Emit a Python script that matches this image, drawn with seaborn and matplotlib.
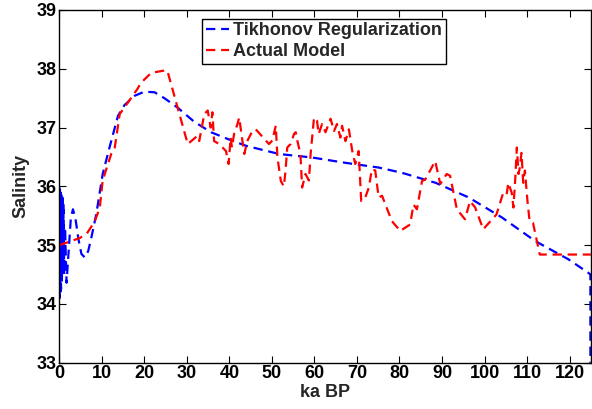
import numpy as np
import pandas as pd
import matplotlib
matplotlib.use("Agg")
import matplotlib.pyplot as plt
import seaborn as sns

# ---- data ----
tik_x = [0.0, 0.08, 0.16, 0.24, 0.32, 0.4, 0.48, 0.56, 0.64, 0.72, 0.8, 0.9, 1.0, 1.15, 1.35, 1.7,
         2.2, 2.7, 3.2, 3.8, 4.5, 5.2, 6.0, 6.8, 7.6, 8.7, 10.2, 11.8, 13.8, 15.3, 17.7, 20.0,
         22.4, 24.7, 27.8, 31.7, 35.7, 39.8, 43.9, 51.7, 59.5, 67.3, 75.1, 80.6, 88.5, 96.3,
         104.1, 111.9, 119.7, 124.4, 124.9, 124.9]
tik_y = [36.0, 34.1, 35.98, 34.15, 35.95, 34.25, 35.9, 34.35, 35.85, 34.5, 35.8, 34.6, 35.7,
         34.5, 35.3, 34.36, 34.9, 35.45, 35.61, 35.45, 35.1, 34.85, 34.79, 34.9, 35.15, 35.53,
         36.21, 36.66, 37.2, 37.38, 37.54, 37.61, 37.6, 37.5, 37.34, 37.1, 36.92, 36.8, 36.69,
         36.55, 36.49, 36.4, 36.32, 36.23, 36.06, 35.81, 35.47, 35.07, 34.76, 34.53, 34.5, 33.0]

act_x = [0.0, 4.8, 6.5, 8.3, 9.5, 10.2, 12.2, 13.0, 14.2, 15.3, 18.4, 19.2, 21.6, 24.7, 25.4,
         30.2, 32.5, 32.9, 34.1, 34.9, 35.6, 36.0, 36.4, 37.6, 39.2, 39.8, 40.3, 40.6, 41.1,
         41.9, 42.3, 43.5, 44.2, 45.4, 46.2, 49.3, 50.1, 50.9, 51.3, 52.1, 52.8, 53.2, 53.6,
         54.4, 55.2, 55.6, 56.0, 56.7, 57.1, 57.9, 58.7, 59.1, 59.9, 60.6, 61.0, 61.8, 62.6,
         63.8, 64.6, 65.3, 66.1, 66.5, 67.3, 68.1, 68.9, 69.6, 70.4, 71.0, 71.9, 72.8, 73.5,
         74.3, 75.1, 75.9, 78.2, 80.2, 81.4, 82.5, 83.3, 84.1, 85.3, 86.1, 88.4, 89.6, 91.1,
         91.9, 93.5, 95.4, 96.6, 97.8, 99.7, 102.8, 104.4, 105.2, 105.6, 106.4, 106.8, 107.2,
         107.6, 108.0, 108.3, 108.7, 109.1, 109.5, 110.1, 110.6, 111.4, 113.0, 125.0]
act_y = [35.0, 35.12, 35.2, 35.4, 35.63, 36.1, 36.55, 36.64, 37.23, 37.34, 37.66, 37.76, 37.93,
         37.97, 37.97, 36.72, 36.86, 36.77, 37.23, 37.29, 37.0, 37.26, 36.77, 36.72, 36.6,
         36.38, 36.83, 36.66, 36.89, 37.06, 37.17, 36.55, 36.77, 36.94, 36.97, 36.72, 36.78,
         37.03, 36.49, 36.09, 36.0, 36.26, 36.66, 36.72, 36.89, 36.92, 36.77, 36.55, 35.98,
         36.21, 36.1, 36.55, 37.17, 37.12, 36.89, 37.06, 36.92, 37.15, 36.94, 37.06, 36.83,
         37.03, 36.77, 36.97, 36.6, 36.38, 36.6, 35.75, 35.8, 35.98, 36.29, 36.27, 35.81,
         35.84, 35.41, 35.24, 35.3, 35.35, 35.69, 35.61, 36.09, 36.12, 36.43, 36.04, 36.21,
         36.18, 35.61, 35.44, 35.75, 35.64, 35.27, 35.52, 35.89, 35.86, 36.06, 35.89, 35.64,
         36.09, 36.66, 36.21, 36.32, 36.57, 36.06, 36.27, 35.75, 35.41, 35.38, 34.84, 34.84]

x_ticks = list(range(0, 121, 10))
y_ticks = [33, 34, 35, 36, 37, 38, 39]

series_names = ["Tikhonov Regularization", "Actual Model"]
series_colors = ["#0000ff", "#ff0000"]

# ---- build frame ----
df = pd.concat([
    pd.DataFrame({"x": tik_x, "y": tik_y, "series": series_names[0]}),
    pd.DataFrame({"x": act_x, "y": act_y, "series": series_names[1]}),
], ignore_index=True)

sns.set_style("ticks")
plt.rcParams["font.family"] = ["Liberation Sans", "DejaVu Sans"]
plt.rcParams["font.weight"] = "bold"

fig = plt.figure(figsize=(5.92, 4.09), dpi=100)
ax = fig.add_axes([0.1002, 0.1132, 0.8978, 0.8624])

dash = (0, (4.2, 2.6))
for name, col in zip(series_names, series_colors):
    sub = df[df["series"] == name]
    sns.lineplot(data=sub, x="x", y="y", ax=ax, color=col, linewidth=1.6,
                 estimator=None, sort=False, label=name, linestyle="--")

for line in ax.get_lines():
    line.set_linestyle(dash)

ax.set_xlim(0, 125)
ax.set_ylim(33, 39)
ax.set_xticks(x_ticks)
ax.set_yticks(y_ticks)
ax.set_xticklabels([str(t) for t in x_ticks], fontsize=13, fontweight="bold")
ax.set_yticklabels([str(t) for t in y_ticks], fontsize=13, fontweight="bold")
ax.tick_params(direction="in", top=True, right=True, length=5, width=0.8, pad=2, colors="black")
for sp in ax.spines.values():
    sp.set_visible(True)
    sp.set_linewidth(1.0)
    sp.set_color("black")

ax.set_xlabel("ka BP", fontsize=13, fontweight="bold", labelpad=1)
ax.set_ylabel("Salinity", fontsize=13, fontweight="bold", labelpad=5)

leg = ax.legend(loc="upper center", bbox_to_anchor=(0.498, 0.975), fontsize=13,
                frameon=True, fancybox=False, framealpha=1, edgecolor="black",
                handlelength=1.3, handletextpad=0.2, borderpad=0.2, labelspacing=0.2,
                borderaxespad=0)
leg.get_frame().set_linewidth(1.0)
for t in leg.get_texts():
    t.set_fontweight("bold")

fig.savefig("out.png", dpi=100)
